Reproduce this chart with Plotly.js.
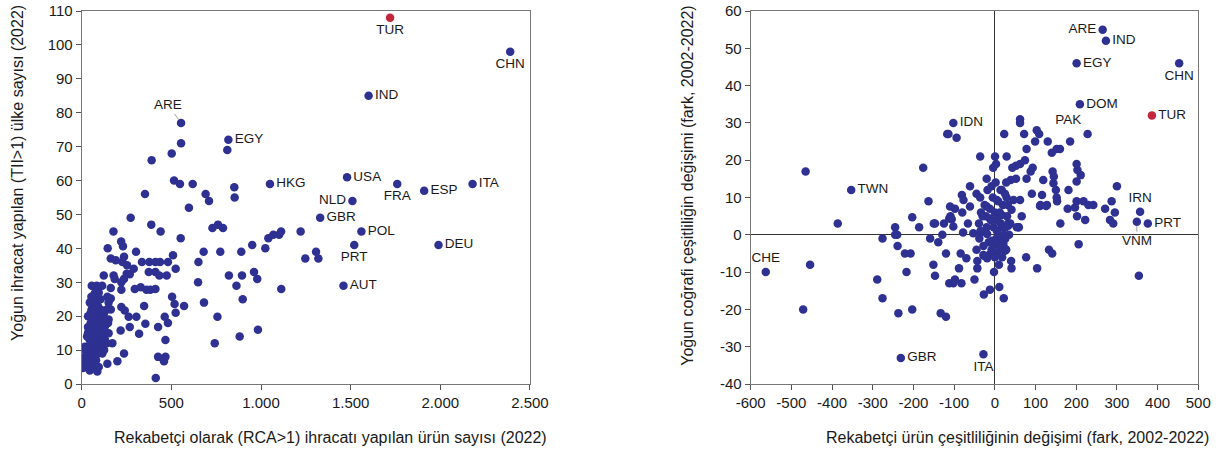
<!DOCTYPE html>
<html>
<head>
<meta charset="utf-8">
<script src="https://cdn.plot.ly/plotly-3.0.1.min.js"></script>
<style>html,body{margin:0;padding:0;background:#fff;}#chart{width:1227px;height:455px;}</style>
</head>
<body>
<div id="chart"></div>
<script>
// ---------- LEFT CHART DATA (RCA>1 product count vs TII>1 country count, 2022) ----------
const leftX = [
 598,710,853,273,388,440,177,552,729,760,788,
 220,230,145,303,680,773,890,651,162,190,227,253,236,336,377,411,437,481,509,524,290,268,374,411,433,474,123,178,184,221,236,251,649,821,894,
 56,84,114,296,329,361,383,411,162,221,863,898,
 54,143,162,63,91,504,518,571,348,682,221,240,50,162,524,262,305,463,481,757,355,426,35,35,91,147,217,268,320,881,742,467,17,82,128,171,17,54,115,236,199,143,87,426,467,459,413,17,7,54,
 554,502,390,515,548,619,353,691,812,851,
 1112,1101,1069,1041,1221,951,1024,1307,1320,1247,961,979,1113,983,
 20,30,25,40,50,60,70,80,90,100,110,120,130,140,150,35,45,55,65,75,85,95,105,115,125,135,30,40,50,60,70,80,90,100,110,120,130,140,150,60,70,80,90,100,110,20,15,45,95,65,75,85,105,115,125,35,55,45,65,75,85,95,105,140,150
];
const leftY = [
 52,54,55,49,47,45,45,43,46,47,46,
 42,40.6,40,39,39,39,39,36,37,36.5,36,35,37.5,36,36,36,36,36,38,34,34,32.4,33,33,32,32,32,32,31,30,31,32.5,30,32,32,
 29,29,29,28,28.5,27.8,27.8,28,28.3,27.8,29,25,
 25.7,25.7,25.2,23.4,24.9,25.7,23.6,23,23,24,22.7,21.7,21,22,21,19.8,19.8,19.8,18,19.8,17.8,16.8,16.8,15,17,18,15.8,16.8,14.8,14,12,13,11,11,12,12,8,9,9,9,6.7,6,3.7,8,8,6.7,1.8,6.2,4.7,5.2,
 71,68,66,60,59,59,56,56,69,58,
 45,44,44,43,45,41,40,39,37,37,33,31,28,16,
 5,6,8,7,10,9,12,11,14,13,15,16,17,18,19,11,13,15,17,19,20,21,22,20,21,19,14,16,18,20,22,24,23,18,17,14,13,12,15,6,8,7,9,10,11,10,7,4,5,14,16,18,16,13,10,20,22,24,26,27,25,27,25,22,24
];
const leftLabels = ['CHN','IND','ARE','EGY','HKG','USA','FRA','ESP','ITA','NLD','GBR','POL','DEU','PRT','AUT'];
const leftLabelX = [2390,1600,554,818,1050,1480,1760,1910,2180,1510,1330,1560,1990,1520,1460];
const leftLabelY = [98,85,77,72,59,61,59,57,59,54,49,45,41,41,29];
const leftTurX = [1720];
const leftTurY = [108];

// ---------- RIGHT CHART DATA (change 2002-2022) ----------
const rightX = [
 -465,-386,-245,-203,-186,-176,-163,-147,-125,-117,-112,
 -454,-471,-289,-276,-276,-245,-240,-239,-221,-207,-217,-237,-203,-159,-139,-151,-147,-133,-120,-120,-129,-150,-112,
 -102,-98,-109,-80,-66,-39,-78,-84,-70,-88,-98,-102,-82,-43,-43,-50,-45,-27,-19,6,26,40,41,77,104,133,141,-27,-12,11,22,161,206,202,179,112,128,153,59,66,-35,-7,14,26,-19,
 291,354,-28,-12,4.5,25,58,17,33,-53,21,
 -114,-94,62,62,23,72,103,109,99,130,185,78,152,160,140,-36,29,0.5,74,62,52,3,43,93,88,-4,142,145,203,52,39,28,78,-20,119,144,-61,-45,-81,-36,-8,17,91,116,152,181,201,-77,-110,-61,5,29,46,62,111,126,197,-106,-34,-20,-12,17,41,33,54,
 300,287,271,295,283,201,211,201,218,230,242,222,150,
 -30,-25,-20,-15,-10,-5,0,5,10,15,20,25,30,35,-35,-28,-18,-8,2,8,12,18,22,28,-12,-3,4,6,-6,-22,14,26,32,38,-38,0,-2,10
];
const rightY = [
 17,3,2,4.7,2,18,9,3,3,27,4.4,
 -8,-20,-12,-1,-17,0,0,-3,-5,-5,-10,-21,-20,-1,-2,-8,-11,-21,-22,-5,0,3,-13,
 2.2,7,5,6,3,3,0.6,-5,-6.3,-9,-12,-13,-13,-7,-9,-12,-4,-5.6,-6.3,-4.7,-3.8,-7,-9,-6,-9,-4,-5,-16,-14.7,-14,-17,3,-2.5,5,7,8,8,9,2,5,0.6,-1.6,-1.2,-1,0.2,
 3,-11,-5.4,-5.2,-4.9,-4.3,2,2,2.4,0.4,-2.3,
 27,26,31,30,27,27,28,27,25,25,25,23,23,23,22,21,21,21,20,19,18.5,19,18,18,17,18,17,15.6,17.4,15,14.7,14,15,15,14.7,13.8,13,11,10.7,10,13,12,11,10.7,10,12,14.3,9.3,7.6,7.6,9.3,10,9.3,9.3,7.7,7.7,7.3,4.2,6,7.6,4.4,5.3,6.7,3,2,
 13,9,7,6,4,19,16,9,9,8,8,4,12,
 5,8,2,-2,4,10,6,1,-3,3,8,11,5,0,1,-3,12,-4,14,9,6,-6,0,-4,7,2,-1,4,-2,5,12,2,8,3,-1,-6,-10,-8
];
const rightLabels = ['ARE','IND','EGY','CHN','DOM','PAK','IDN','TWN','IRN','PRT','VNM','CHE','GBR','ITA'];
const rightLabelX = [265,273,201,453,209,228,-102,-353,357,376,349,-563,-231,-28];
const rightLabelY = [55,52,46,46,35,27,30,12,6.2,3,3.5,-10,-33,-32];
const rightTurX = [386];
const rightTurY = [32];

// tick labels and axis titles
const leftXTicks = [0,500,1000,1500,2000,2500];
const leftXTickText = ['0','500','1.000','1.500','2.000','2.500'];
const leftYTicks = [0,10,20,30,40,50,60,70,80,90,100,110];
const rightXTicks = [-600,-500,-400,-300,-200,-100,0,100,200,300,400,500];
const rightXTickText = ['-600','-500','-400','-300','-200','-100','0','100','200','300','400','500'];
const rightYTicks = [-40,-30,-20,-10,0,10,20,30,40,50,60];
const rightYTickText = ['-40','-30','-20','-10','0','10','20','30','40','50','60'];
const leftXTitle = 'Rekabetçi olarak (RCA>1) ihracatı yapılan ürün sayısı (2022)';
const leftYTitle = 'Yoğun ihracat yapılan (TII>1) ülke sayısı (2022)';
const rightXTitle = 'Rekabetçi ürün çeşitliliğinin değişimi (fark, 2002-2022)';
const rightYTitle = 'Yoğun coğrafi çeşitliliğin değişimi (fark, 2002-2022)';

// ---------- styling / layout ----------
const BLUE = '#2e3192';
const RED = '#c3263a';
const FONT = 'Liberation Sans, Arial, sans-serif';
const TXT = '#1a1a1a';
const MS = 8.5;
const LBL = 13.5;

const leftPos = {CHN:'bottom center', IND:'middle right', EGY:'middle right', HKG:'middle right', USA:'middle right',
  FRA:'bottom center', ESP:'middle right', ITA:'middle right', NLD:'middle left', GBR:'middle right', POL:'middle right',
  DEU:'middle right', PRT:'bottom center', AUT:'middle right'};
const rightPos = {ARE:'middle left', IND:'middle right', EGY:'middle right', CHN:'bottom center', DOM:'middle right',
  PAK:'top left', IDN:'middle right', TWN:'middle right', IRN:'top center', PRT:'middle right', CHE:'top center',
  GBR:'middle right', ITA:'bottom center'};
const arrowLabels = {ARE_L:{ax:-13, ay:-18}, VNM_R:{ax:0, ay:19}};

const traces = [];
const annotations = [];

function addLabelled(names, xs, ys, posMap, xa, ya, tag){
  const px=[],py=[],pt=[],pp=[];
  names.forEach((n,i)=>{
    const key = n+'_'+tag;
    if(arrowLabels[key]){
      traces.push({x:[xs[i]],y:[ys[i]],type:'scatter',mode:'markers',xaxis:xa,yaxis:ya,
        marker:{color:BLUE,size:MS},hoverinfo:'skip',showlegend:false});
      annotations.push({x:xs[i],y:ys[i],xref:xa,yref:ya,text:n,showarrow:true,arrowhead:0,
        arrowwidth:0.8,arrowcolor:'#888',ax:arrowLabels[key].ax,ay:arrowLabels[key].ay,standoff:4,
        font:{family:FONT,size:LBL,color:TXT}});
    } else {
      px.push(xs[i]);py.push(ys[i]);pt.push(n);pp.push(posMap[n]);
    }
  });
  traces.push({x:px,y:py,text:pt,textposition:pp,type:'scatter',mode:'markers+text',xaxis:xa,yaxis:ya,
    marker:{color:BLUE,size:MS},textfont:{family:FONT,size:LBL,color:TXT},cliponaxis:false,hoverinfo:'skip',showlegend:false});
}

// left
traces.push({x:leftX,y:leftY,type:'scatter',mode:'markers',xaxis:'x',yaxis:'y',marker:{color:BLUE,size:MS},showlegend:false,hoverinfo:'skip'});
addLabelled(leftLabels,leftLabelX,leftLabelY,leftPos,'x','y','L');
traces.push({x:leftTurX,y:leftTurY,text:['TUR'],textposition:'bottom center',type:'scatter',mode:'markers+text',xaxis:'x',yaxis:'y',
  marker:{color:RED,size:MS},textfont:{family:FONT,size:LBL,color:TXT},cliponaxis:false,showlegend:false,hoverinfo:'skip'});
// right
traces.push({x:rightX,y:rightY,type:'scatter',mode:'markers',xaxis:'x2',yaxis:'y2',marker:{color:BLUE,size:MS},showlegend:false,hoverinfo:'skip'});
addLabelled(rightLabels,rightLabelX,rightLabelY,rightPos,'x2','y2','R');
traces.push({x:rightTurX,y:rightTurY,text:['TUR'],textposition:'middle right',type:'scatter',mode:'markers+text',xaxis:'x2',yaxis:'y2',
  marker:{color:RED,size:MS},textfont:{family:FONT,size:LBL,color:TXT},cliponaxis:false,showlegend:false,hoverinfo:'skip'});

// axis titles (placed as in the original, slightly off-centre)
const titleFont = {family:FONT,size:16,color:TXT};
annotations.push({text:leftXTitle, xref:'paper', yref:'paper', x:0.269, y:-0.144, xanchor:'center', yanchor:'middle', showarrow:false, font:titleFont});
annotations.push({text:rightXTitle, xref:'paper', yref:'paper', x:0.8289, y:-0.144, xanchor:'center', yanchor:'middle', showarrow:false, font:titleFont});
annotations.push({text:leftYTitle, xref:'paper', yref:'paper', x:0.0147, y:0.566, xanchor:'center', yanchor:'middle', textangle:-90, showarrow:false, font:titleFont});
annotations.push({text:rightYTitle, xref:'paper', yref:'paper', x:0.5607, y:0.534, xanchor:'center', yanchor:'middle', textangle:-90, showarrow:false, font:titleFont});

const axBase = {showgrid:false, showline:true, mirror:true, linecolor:'#777', linewidth:1, ticks:'outside', ticklen:5,
  tickcolor:'#555', tickfont:{family:FONT,size:15,color:TXT}, fixedrange:true};

const layout = {
  width:1227, height:455,
  margin:{l:0,r:0,t:11,b:71},
  paper_bgcolor:'#fff', plot_bgcolor:'#fff',
  showlegend:false,
  font:{family:FONT,color:TXT},
  xaxis:Object.assign({}, axBase, {domain:[0.0666,0.4319], range:[0,2500], tickmode:'array', tickvals:leftXTicks, ticktext:leftXTickText,
    zeroline:false, anchor:'y'}),
  yaxis:Object.assign({}, axBase, {domain:[0,1], range:[0,110], tickmode:'array', tickvals:leftYTicks, zeroline:false, anchor:'x'}),
  xaxis2:Object.assign({}, axBase, {domain:[0.6118,0.9766], range:[-600,500], tickmode:'array', tickvals:rightXTicks, ticktext:rightXTickText,
    zeroline:true, zerolinecolor:'#333', zerolinewidth:1, anchor:'y2'}),
  yaxis2:Object.assign({}, axBase, {domain:[0,1], range:[-40,60], tickmode:'array', tickvals:rightYTicks, ticktext:rightYTickText,
    zeroline:true, zerolinecolor:'#333', zerolinewidth:1, anchor:'x2'}),
  annotations:annotations
};

Plotly.newPlot('chart', traces, layout, {displayModeBar:false, staticPlot:true});
</script>
</body>
</html>
